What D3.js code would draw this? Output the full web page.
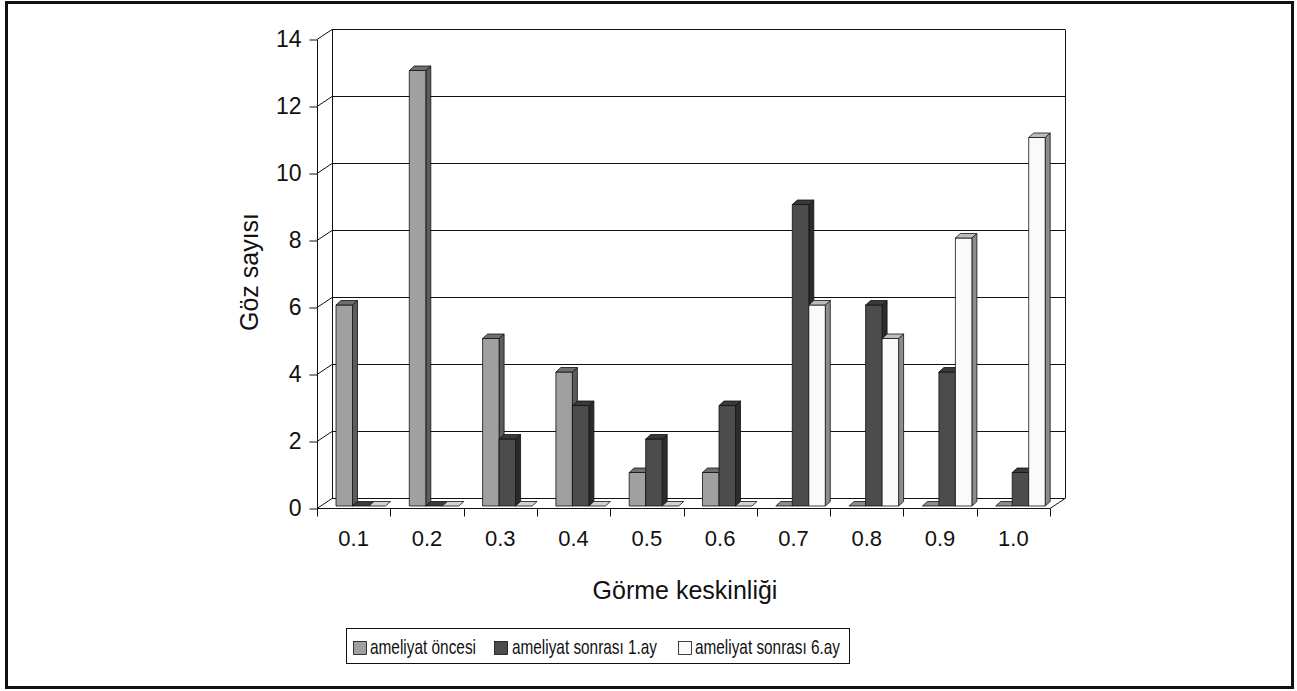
<!DOCTYPE html>
<html>
<head>
<meta charset="utf-8">
<script src="https://cdn.jsdelivr.net/npm/d3@7/dist/d3.min.js"></script>
<style>
  html, body { margin: 0; padding: 0; background: #fff; }
  svg { display: block; font-family: "Liberation Sans", Arial, Helvetica, sans-serif; }
</style>
</head>
<body>
<svg id="chart" width="1297" height="691"></svg>
<script>
// Visual acuity categories and eye counts per period
const categories = ["0.1", "0.2", "0.3", "0.4", "0.5", "0.6", "0.7", "0.8", "0.9", "1.0"];
const seriesNames = ["ameliyat öncesi", "ameliyat sonrası 1.ay", "ameliyat sonrası 6.ay"];
const preOp = [6, 13, 5, 4, 1, 1, 0, 0, 0, 0];
const postOp1 = [0, 0, 2, 3, 2, 3, 9, 6, 4, 1];
const postOp6 = [0, 0, 0, 0, 0, 0, 6, 5, 8, 11];
const yTicks = [0, 2, 4, 6, 8, 10, 12, 14];
const yTitle = "Göz sayısı";
const xTitle = "Görme keskinliği";

const seriesValues = [preOp, postOp1, postOp6];
// front / top / side shades for each series, plus the fill of a zero-height cap
const faceColors = [
  { front: "#a0a0a0", top: "#6e6e6e", side: "#5c5c5c", flat: "#8c8c8c" },
  { front: "#4c4c4c", top: "#3a3a3a", side: "#2c2c2c", flat: "#3a3a3a" },
  { front: "#fafafa", top: "#bdbdbd", side: "#8c8c8c", flat: "#d2d2d2" }
];

const svg = d3.select("#chart");

// outer frame
svg.append("rect")
  .attr("x", 6.5).attr("y", 2.5).attr("width", 1286).attr("height", 685)
  .attr("fill", "none").attr("stroke", "#111").attr("stroke-width", 3);

// plot geometry (front plane) and wall depth
const plotLeft = 317, plotRight = 1050, plotBottom = 508, plotTop = 39;
const wallDx = 15, wallDy = -10;
const barPlaneDx = 3, barPlaneDy = -2;
const barDx = 5, barDy = -4.5;

const y = d3.scaleLinear().domain([0, 14]).range([plotBottom, plotTop]);
const x = d3.scaleBand().domain(categories).range([plotLeft, plotRight]).padding(0);
const xs = d3.scaleBand().domain(d3.range(seriesNames.length))
  .range([16, 16 + 49.5]).padding(0);

const axisStroke = "#111";

// back wall gridlines with their diagonal connectors to the front axis
const grid = svg.append("g").attr("fill", "none").attr("stroke", axisStroke).attr("stroke-width", 1);
yTicks.forEach(v => {
  const yy = Math.round(y(v)) + 0.5;
  grid.append("line")
    .attr("x1", plotLeft + wallDx).attr("x2", plotRight + wallDx)
    .attr("y1", yy + wallDy).attr("y2", yy + wallDy);
  grid.append("line")
    .attr("x1", plotLeft).attr("y1", yy)
    .attr("x2", plotLeft + wallDx).attr("y2", yy + wallDy);
});
// wall verticals
grid.append("line")
  .attr("x1", plotLeft + wallDx + 0.5).attr("x2", plotLeft + wallDx + 0.5)
  .attr("y1", Math.round(y(14)) + wallDy + 0.5).attr("y2", Math.round(y(0)) + wallDy + 0.5);
grid.append("line")
  .attr("x1", plotRight + wallDx + 0.5).attr("x2", plotRight + wallDx + 0.5)
  .attr("y1", Math.round(y(14)) + wallDy + 0.5).attr("y2", Math.round(y(0)) + wallDy + 0.5);
// floor front edge and right diagonal
grid.append("line")
  .attr("x1", plotLeft).attr("x2", plotRight)
  .attr("y1", Math.round(y(0)) + 0.5).attr("y2", Math.round(y(0)) + 0.5);
grid.append("line")
  .attr("x1", plotRight).attr("y1", Math.round(y(0)) + 0.5)
  .attr("x2", plotRight + wallDx).attr("y2", Math.round(y(0)) + 0.5 + wallDy);

// bars, drawn left to right so neighbours cover hidden side faces
const bars = svg.append("g").attr("stroke", "#111").attr("stroke-width", 0.8).attr("stroke-linejoin", "round");
categories.forEach((c, ci) => {
  seriesValues.forEach((vals, si) => {
    const v = vals[ci];
    const col = faceColors[si];
    const x0 = x(c) + barPlaneDx + xs(si);
    const w = xs.bandwidth();
    const yb = y(0) + barPlaneDy;
    const yt = y(v) + barPlaneDy;
    const g = bars.append("g");
    if (v > 0) {
      g.append("polygon")
        .attr("points", [[x0 + w, yt], [x0 + w + barDx, yt + barDy], [x0 + w + barDx, yb + barDy], [x0 + w, yb]].join(" "))
        .attr("fill", col.side);
      g.append("rect")
        .attr("x", x0).attr("y", yt).attr("width", w).attr("height", yb - yt)
        .attr("fill", col.front);
    }
    g.append("polygon")
      .attr("points", [[x0, yt], [x0 + w, yt], [x0 + w + barDx, yt + barDy], [x0 + barDx, yt + barDy]].join(" "))
      .attr("fill", v > 0 ? col.top : col.flat);
  });
});

// y axis
const yAxis = svg.append("g")
  .attr("transform", `translate(${plotLeft + 0.5},0.5)`)
  .call(d3.axisLeft(y).tickValues(yTicks).tickSize(8).tickPadding(8).tickFormat(d3.format("d")));
yAxis.select(".domain").attr("stroke", axisStroke).attr("d", `M0,${Math.round(y(14))}V${Math.round(y(0))}`);
yAxis.selectAll(".tick line").attr("stroke", axisStroke);
yAxis.selectAll(".tick text").attr("font-size", 23).attr("fill", "#111").attr("font-family", "Liberation Sans, Arial, sans-serif");

// x axis: labels at band centres, tick marks on band boundaries
const xAxis = svg.append("g")
  .attr("transform", `translate(0,${Math.round(y(0)) + 0.5})`)
  .call(d3.axisBottom(x).tickSize(0).tickPadding(22));
xAxis.select(".domain").remove();
xAxis.selectAll(".tick text").attr("font-size", 22).attr("fill", "#111").attr("font-family", "Liberation Sans, Arial, sans-serif");
const boundaries = categories.map(c => x(c)).concat([plotRight]);
xAxis.selectAll(".bound").data(boundaries).enter().append("line")
  .attr("class", "bound")
  .attr("x1", d => Math.round(d) + 0.5).attr("x2", d => Math.round(d) + 0.5)
  .attr("y1", 0).attr("y2", 8).attr("stroke", axisStroke);

// axis titles
svg.append("text")
  .attr("x", 685).attr("y", 599)
  .attr("text-anchor", "middle").attr("font-size", 25).attr("fill", "#111")
  .text(xTitle);
svg.append("text")
  .attr("transform", `translate(258,272) rotate(-90)`)
  .attr("text-anchor", "middle").attr("font-size", 25).attr("fill", "#111")
  .text(yTitle);

// legend
const legend = svg.append("g");
legend.append("rect")
  .attr("x", 346.5).attr("y", 628.5).attr("width", 503).attr("height", 35)
  .attr("fill", "#fff").attr("stroke", "#111").attr("stroke-width", 1);
const legendItems = [
  { sx: 353, tx: 370, tw: 106 },
  { sx: 494, tx: 512, tw: 145 },
  { sx: 678, tx: 695, tw: 145 }
];
legendItems.forEach((it, i) => {
  legend.append("rect")
    .attr("x", it.sx + 0.5).attr("y", 641.5).attr("width", 13).attr("height", 13)
    .attr("fill", faceColors[i].front).attr("stroke", "#111").attr("stroke-width", 0.8);
  legend.append("text")
    .attr("x", it.tx).attr("y", 654)
    .attr("font-size", 21).attr("fill", "#111")
    .attr("textLength", it.tw).attr("lengthAdjust", "spacingAndGlyphs")
    .text(seriesNames[i]);
});
</script>
</body>
</html>
